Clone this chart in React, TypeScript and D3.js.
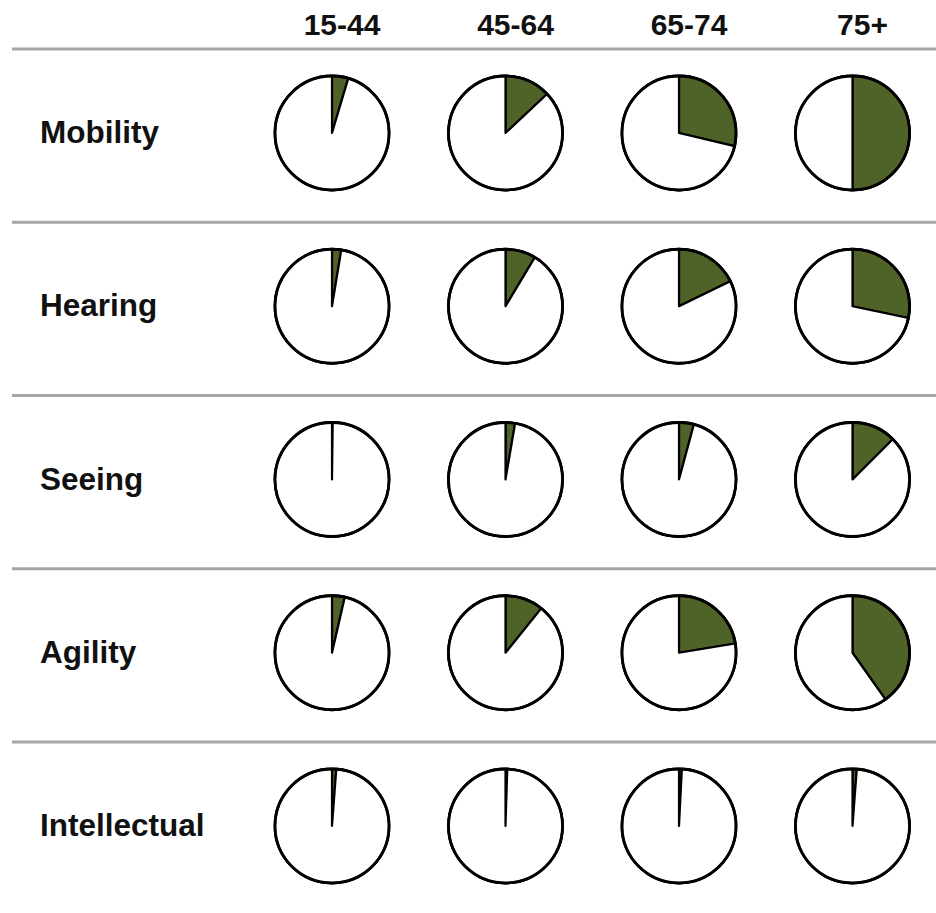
import React from "react";
import * as d3 from "d3";

const ageGroups = ["15-44", "45-64", "65-74", "75+"];
const categories = ["Mobility", "Hearing", "Seeing", "Agility", "Intellectual"];
const mobility = [0.046, 0.13, 0.287, 0.5];
const hearing = [0.026, 0.086, 0.178, 0.283];
const seeing = [0.002, 0.027, 0.042, 0.125];
const agility = [0.036, 0.108, 0.224, 0.402];
const intellectual = [0.012, 0.005, 0.008, 0.012];
const seriesValues = [mobility, hearing, seeing, agility, intellectual];

const W = 936;
const H = 913;
const R = 57;
const GREEN = "#4f6228";

export default function App() {
  const x = d3.scalePoint<string>().domain(ageGroups).range([332, 852.5]);
  const y = d3.scalePoint<string>().domain(categories).range([133, 826]);
  const pie = d3.pie<number>().sort(null).value((d) => d);
  const arc = d3.arc<d3.PieArcDatum<number>>().innerRadius(0).outerRadius(R);
  const font = "'Liberation Sans', Arial, sans-serif";

  return (
    <svg
      width={W}
      height={H}
      style={{ position: "absolute", left: 0, top: 0, background: "#fff" }}
    >
      {ageGroups.map((g) => (
        <text
          key={g}
          x={(x(g) as number) + 10}
          y={35}
          textAnchor="middle"
          fontFamily={font}
          fontWeight="bold"
          fontSize={30}
          fill="#111"
        >
          {g}
        </text>
      ))}
      {categories.map((c) => (
        <line
          key={"l" + c}
          x1={12}
          x2={W}
          y1={(y(c) as number) - 84}
          y2={(y(c) as number) - 84}
          stroke="#a6a6a6"
          strokeWidth={3}
        />
      ))}
      {categories.map((c, ci) => (
        <g key={c}>
          <text
            x={40}
            y={(y(c) as number) + 10}
            fontFamily={font}
            fontWeight="bold"
            fontSize={31.5}
            fill="#111"
          >
            {c}
          </text>
          {ageGroups.map((g, gi) => {
            const v = seriesValues[ci][gi];
            const arcs = pie([v, 1 - v]);
            return (
              <g key={g} transform={`translate(${x(g)},${y(c)})`}>
                <circle r={R} fill="#fff" stroke="#000" strokeWidth={2.8} />
                {arcs.map((a, ai) => (
                  <path
                    key={ai}
                    d={arc(a) || ""}
                    fill={ai === 0 ? GREEN : "#fff"}
                    stroke="#000"
                    strokeWidth={2.2}
                    strokeLinejoin="round"
                  />
                ))}
                <circle r={R} fill="none" stroke="#000" strokeWidth={2.8} />
              </g>
            );
          })}
        </g>
      ))}
    </svg>
  );
}
